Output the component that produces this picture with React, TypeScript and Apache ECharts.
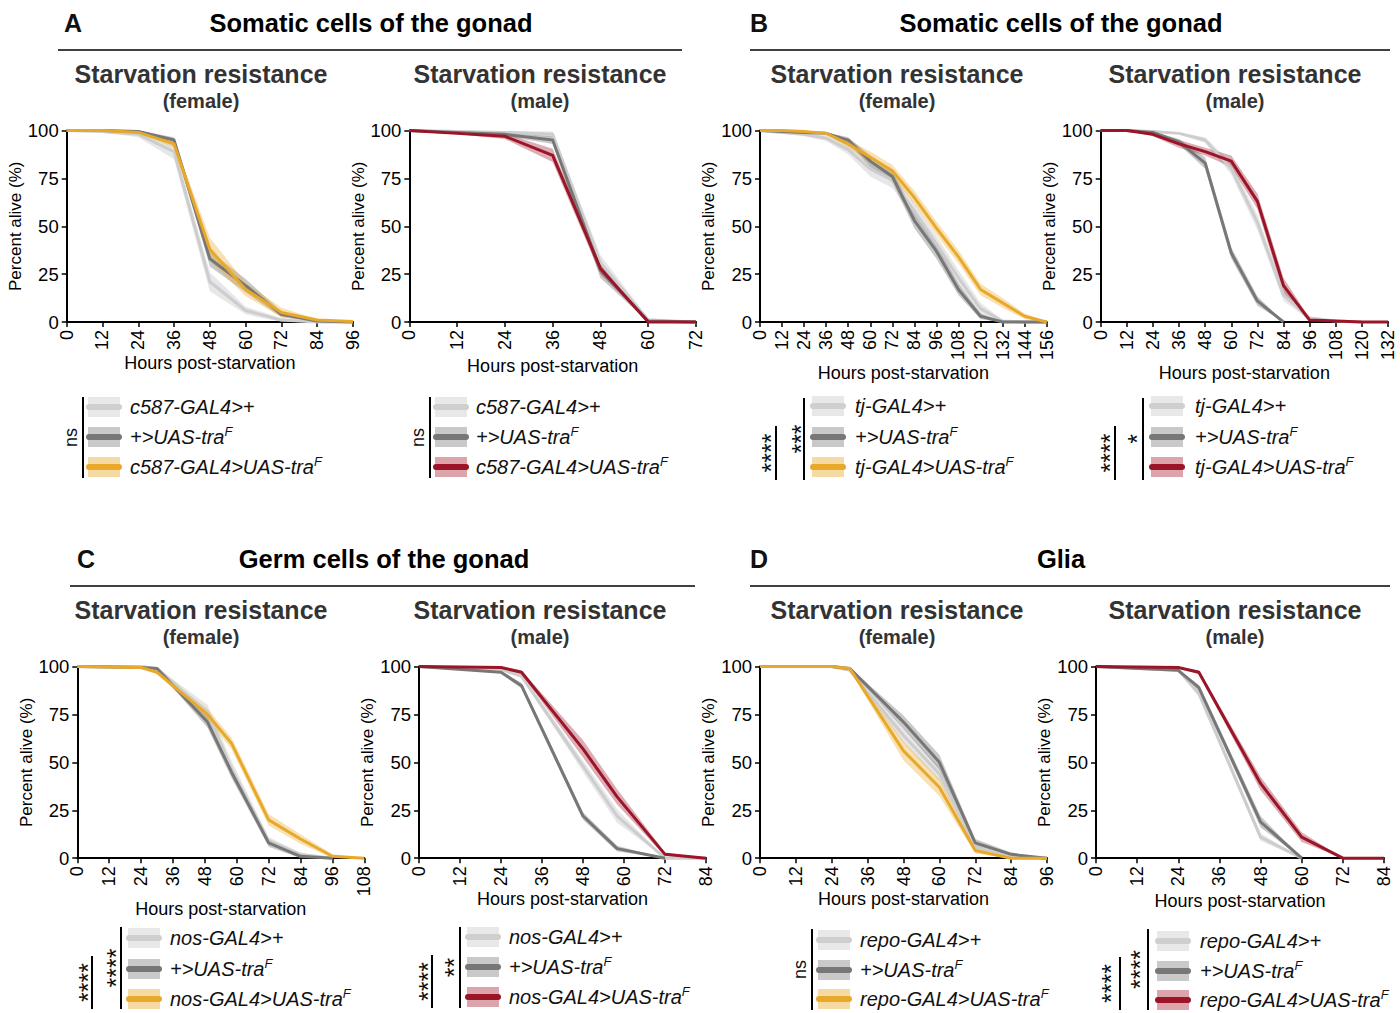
import React, { useEffect, useRef } from 'react';
import * as echarts from 'echarts';

const FONT = '"Liberation Sans", Arial, Helvetica, sans-serif';

// ---------- Panel A (c587-GAL4) female ----------
const A_F_HOURS = [0, 12, 24, 36, 48, 60, 72, 84, 96];
const A_F_DRV = [100, 99.5, 98, 89, 21, 6, 1, 0, 0];
const A_F_DRV_CI = [0, 0.5, 1.5, 4, 5, 2, 1, 0, 0];
const A_F_UAS = [100, 100, 99.5, 95, 33, 19, 4, 0.5, 0];
const A_F_UAS_CI = [0, 0, 0.5, 1.5, 4, 3.5, 1.5, 0.5, 0];
const A_F_EXP = [100, 100, 99, 93, 38, 17, 5, 1, 0.3];
const A_F_EXP_CI = [0, 0, 0.5, 2, 6, 3.5, 2.5, 0.5, 0.3];
// ---------- Panel A male ----------
const A_M_HOURS = [0, 12, 24, 36, 48, 60, 72];
const A_M_DRV = [100, 99.5, 99, 98, 31, 1, 0];
const A_M_DRV_CI = [0, 0.3, 0.8, 1.5, 4, 1, 0.5];
const A_M_UAS = [100, 99, 98, 95, 27, 0.5, 0];
const A_M_UAS_CI = [0, 0.3, 0.8, 2, 4, 0.5, 0];
const A_M_EXP = [100, 98.5, 97, 87, 28, 0, 0];
const A_M_EXP_CI = [0, 0.5, 1.5, 3.5, 3, 0, 0];
// ---------- Panel B (tj-GAL4) female ----------
const B_F_HOURS = [0, 12, 24, 36, 48, 60, 72, 84, 96, 108, 120, 132, 144, 156];
const B_F_DRV = [100, 99, 98, 96, 90, 80, 74, 58, 41, 23, 7, 0.5, 0, 0];
const B_F_DRV_CI = [0, 0.5, 1, 1.5, 2.5, 4, 4, 4, 4, 4, 3, 0.5, 0, 0];
const B_F_UAS = [100, 99.5, 99, 98.5, 95, 84, 76, 53, 37, 17, 3, 0, 0, 0];
const B_F_UAS_CI = [0, 0.3, 0.5, 0.5, 1.5, 3, 3, 4, 4, 3, 1.5, 0, 0, 0];
const B_F_EXP = [100, 100, 99.5, 98.5, 93, 86, 79, 65, 49, 34, 17, 10, 3, 0];
const B_F_EXP_CI = [0, 0, 0.3, 0.5, 2, 3, 3, 3.5, 3.5, 3.5, 3, 2.5, 1.5, 0];
// ---------- Panel B male ----------
const B_M_HOURS = [0, 12, 24, 36, 48, 60, 72, 84, 96, 108, 120, 132];
const B_M_DRV = [100, 100, 99.5, 98.5, 95, 80, 52, 14, 2, 0.5, 0];
const B_M_DRV_CI = [0, 0, 0.3, 0.5, 1.5, 3, 4, 3, 1, 0.5, 0];
const B_M_UAS = [100, 100, 99, 94, 83, 36, 11, 0];
const B_M_UAS_CI = [0, 0, 0.5, 1.5, 3, 3, 2.5, 0];
const B_M_EXP = [100, 100, 98, 93, 89, 84, 63, 19, 1, 0.5, 0, 0];
const B_M_EXP_CI = [0, 0, 1, 2, 2, 3, 4, 4, 1, 0.5, 0, 0];
// ---------- Panel C (nos-GAL4) female ----------
const C_F_HOURS = [0, 24, 30, 49, 58, 72, 84, 96, 108];
const C_F_DRV = [100, 100, 99, 76, 47, 9, 2, 0];
const C_F_DRV_CI = [0, 0, 0.5, 4, 4, 2, 1, 0];
const C_F_UAS = [100, 99.5, 99, 71, 45, 8, 1, 0];
const C_F_UAS_CI = [0, 0.5, 0.5, 3, 3, 2, 1, 0];
const C_F_EXP = [100, 99.5, 97, 75, 60, 20, 10, 1, 0];
const C_F_EXP_CI = [0, 0.3, 1, 3, 3, 3, 2.5, 1, 0];
// ---------- Panel C male ----------
const C_M_HOURS = [0, 24, 30, 48, 58, 72, 84];
const C_M_DRV = [100, 98.5, 95, 48, 22, 0, 0];
const C_M_DRV_CI = [0, 0.5, 1, 3, 3.5, 0, 0];
const C_M_UAS = [100, 97, 90, 22, 5, 0];
const C_M_UAS_CI = [0, 0.5, 1.5, 2, 1.5, 0];
const C_M_EXP = [100, 99.5, 97, 57, 32, 2, 0];
const C_M_EXP_CI = [0, 0.3, 1, 4.5, 4, 1, 0];
// ---------- Panel D (repo-GAL4) female ----------
const D_F_HOURS = [0, 24, 30, 48, 60, 72, 84, 96];
const D_F_DRV = [100, 100, 98, 64, 44, 6, 1, 0];
const D_F_DRV_CI = [0, 0, 0.5, 4, 4, 2, 1, 0];
const D_F_UAS = [100, 100, 99, 71, 50, 8, 2, 0];
const D_F_UAS_CI = [0, 0, 0.5, 3.5, 4, 2, 1, 0];
const D_F_EXP = [100, 100, 99, 56, 37, 4, 0, 0];
const D_F_EXP_CI = [0, 0, 0.5, 5, 4.5, 1.5, 0, 0];
// ---------- Panel D male ----------
const D_M_HOURS = [0, 24, 30, 48, 60, 72, 84];
const D_M_DRV = [100, 98, 86, 11, 0];
const D_M_DRV_CI = [0, 0.5, 2, 2, 0];
const D_M_UAS = [100, 98, 89, 19, 0];
const D_M_UAS_CI = [0, 0.5, 1.5, 3, 0];
const D_M_EXP = [100, 99.5, 97, 39, 11, 0, 0];
const D_M_EXP_CI = [0, 0.3, 1, 3.5, 2.5, 0, 0];

// ---------- Legend labels & stats ----------
const A_LABELS = ['c587-GAL4>+', '+>UAS-tra', 'c587-GAL4>UAS-tra'];
const B_LABELS = ['tj-GAL4>+', '+>UAS-tra', 'tj-GAL4>UAS-tra'];
const C_LABELS = ['nos-GAL4>+', '+>UAS-tra', 'nos-GAL4>UAS-tra'];
const D_LABELS = ['repo-GAL4>+', '+>UAS-tra', 'repo-GAL4>UAS-tra'];
const SUPERSCRIPT = ['', 'F', 'F'];
const A_F_SIG = ['ns'];
const A_M_SIG = ['ns'];
const B_F_SIG = ['****', '***'];
const B_M_SIG = ['****', '*'];
const C_F_SIG = ['****', '****'];
const C_M_SIG = ['****', '**'];
const D_F_SIG = ['ns'];
const D_M_SIG = ['****', '****'];

const SECTION_TITLES = ['Somatic cells of the gonad', 'Somatic cells of the gonad', 'Germ cells of the gonad', 'Glia'];
const SECTION_LETTERS = ['A', 'B', 'C', 'D'];
const SEX_LABELS = ['(female)', '(male)'];

// ---------- Styles ----------
const COLORS = {
  light: { line: '#cdcdcd', band: 'rgba(185,185,185,0.35)', swBand: '#e8e8e8', swLine: '#cfcfcf' },
  dark: { line: '#777777', band: 'rgba(120,120,120,0.4)', swBand: '#c9c9c9', swLine: '#777777' },
  yellow: { line: '#e8a92b', band: 'rgba(232,169,43,0.35)', swBand: '#f6daa3', swLine: '#e8a92b' },
  red: { line: '#9b1427', band: 'rgba(155,20,39,0.35)', swBand: '#dca4ab', swLine: '#9b1427' },
};

const PANELS = [
  { hours: A_F_HOURS, xmax: 96, drv: [A_F_DRV, A_F_DRV_CI], uas: [A_F_UAS, A_F_UAS_CI], exp: [A_F_EXP, A_F_EXP_CI], col: 'yellow',
    grid: { left: 66.7, top: 130.5, width: 286.3, height: 191.5 }, xGap: 32, cx: 201, ty: 74,
    labels: A_LABELS, sig: A_F_SIG, leg: { rows: [407, 437, 467], sx: 88, tx: 130, lines: [{ x: 83, y1: 397, y2: 478, lx: 71 }] } },
  { hours: A_M_HOURS, xmax: 72, drv: [A_M_DRV, A_M_DRV_CI], uas: [A_M_UAS, A_M_UAS_CI], exp: [A_M_EXP, A_M_EXP_CI], col: 'red',
    grid: { left: 409.3, top: 130.5, width: 286.7, height: 191.5 }, xGap: 35, cx: 540, ty: 74,
    labels: A_LABELS, sig: A_M_SIG, leg: { rows: [407, 437, 467], sx: 435, tx: 476, lines: [{ x: 430, y1: 397, y2: 478, lx: 418 }] } },
  { hours: B_F_HOURS, xmax: 156, drv: [B_F_DRV, B_F_DRV_CI], uas: [B_F_UAS, B_F_UAS_CI], exp: [B_F_EXP, B_F_EXP_CI], col: 'yellow',
    grid: { left: 760, top: 130.5, width: 286.7, height: 191.5 }, xGap: 42, cx: 897, ty: 74,
    labels: B_LABELS, sig: B_F_SIG, leg: { rows: [406, 437, 467], sx: 812, tx: 855, lines: [{ x: 776, y1: 426, y2: 480, lx: 771 }, { x: 804, y1: 398, y2: 480, lx: 801 }] } },
  { hours: B_M_HOURS, xmax: 132, drv: [B_M_DRV, B_M_DRV_CI], uas: [B_M_UAS, B_M_UAS_CI], exp: [B_M_EXP, B_M_EXP_CI], col: 'red',
    grid: { left: 1100.7, top: 130.5, width: 287.3, height: 191.5 }, xGap: 42, cx: 1235, ty: 74,
    labels: B_LABELS, sig: B_M_SIG, leg: { rows: [406, 437, 467], sx: 1151, tx: 1195, lines: [{ x: 1115, y1: 426, y2: 480, lx: 1110 }, { x: 1143, y1: 398, y2: 480, lx: 1137 }] } },
  { hours: C_F_HOURS, xmax: 108, drv: [C_F_DRV, C_F_DRV_CI], uas: [C_F_UAS, C_F_UAS_CI], exp: [C_F_EXP, C_F_EXP_CI], col: 'yellow',
    grid: { left: 77.3, top: 666.5, width: 287, height: 191.7 }, xGap: 35, cx: 201, ty: 610,
    labels: C_LABELS, sig: C_F_SIG, leg: { rows: [938, 969, 999], sx: 128, tx: 170, lines: [{ x: 92, y1: 956, y2: 1009, lx: 88 }, { x: 121, y1: 927, y2: 1009, lx: 116 }] } },
  { hours: C_M_HOURS, xmax: 84, drv: [C_M_DRV, C_M_DRV_CI], uas: [C_M_UAS, C_M_UAS_CI], exp: [C_M_EXP, C_M_EXP_CI], col: 'red',
    grid: { left: 419, top: 666.5, width: 287, height: 191.7 }, xGap: 32, cx: 540, ty: 610,
    labels: C_LABELS, sig: C_M_SIG, leg: { rows: [937, 967, 997], sx: 467, tx: 509, lines: [{ x: 432, y1: 955, y2: 1008, lx: 428 }, { x: 460, y1: 927, y2: 1008, lx: 454 }] } },
  { hours: D_F_HOURS, xmax: 96, drv: [D_F_DRV, D_F_DRV_CI], uas: [D_F_UAS, D_F_UAS_CI], exp: [D_F_EXP, D_F_EXP_CI], col: 'yellow',
    grid: { left: 760, top: 666.5, width: 287, height: 191.7 }, xGap: 32, cx: 897, ty: 610,
    labels: D_LABELS, sig: D_F_SIG, leg: { rows: [940, 970, 999], sx: 818, tx: 860, lines: [{ x: 812, y1: 929, y2: 1010, lx: 800 }] } },
  { hours: D_M_HOURS, xmax: 84, drv: [D_M_DRV, D_M_DRV_CI], uas: [D_M_UAS, D_M_UAS_CI], exp: [D_M_EXP, D_M_EXP_CI], col: 'red',
    grid: { left: 1096, top: 666.5, width: 288, height: 191.7 }, xGap: 34, cx: 1235, ty: 610,
    labels: D_LABELS, sig: D_M_SIG, leg: { rows: [941, 971, 1000], sx: 1157, tx: 1200, lines: [{ x: 1120, y1: 957, y2: 1010, lx: 1111 }, { x: 1148, y1: 929, y2: 1010, lx: 1140 }] } },
];

const SECTIONS = [
  { lx: 64, cx: 371, y: 23, x1: 58, x2: 682, ly: 50 },
  { lx: 750, cx: 1061, y: 23, x1: 750, x2: 1390, ly: 50 },
  { lx: 77, cx: 384, y: 559, x1: 70, x2: 695, ly: 586 },
  { lx: 750, cx: 1061, y: 559, x1: 750, x2: 1390, ly: 586 },
];

function bandSeries(gi: number, hours: number[], mean: number[], ci: number[], color: string) {
  return {
    type: 'custom',
    xAxisIndex: gi,
    yAxisIndex: gi,
    silent: true,
    z: 1,
    data: [[hours[0], mean[0]]],
    renderItem: (_params: any, api: any) => {
      const n = mean.length;
      const pts: number[][] = [];
      for (let k = 0; k < n; k++) pts.push(api.coord([hours[k], Math.min(100, mean[k] + ci[k])]));
      for (let k = n - 1; k >= 0; k--) pts.push(api.coord([hours[k], Math.max(0, mean[k] - ci[k])]));
      return { type: 'polygon', shape: { points: pts }, style: { fill: color } };
    },
  };
}

function lineSeries(gi: number, hours: number[], mean: number[], color: string) {
  return {
    type: 'line',
    xAxisIndex: gi,
    yAxisIndex: gi,
    silent: true,
    z: 3,
    symbol: 'none',
    clip: false,
    data: mean.map((v, k) => [hours[k], v]),
    lineStyle: { color, width: 3, join: 'round' },
  };
}

function buildOption() {
  const grid: any[] = [];
  const xAxis: any[] = [];
  const yAxis: any[] = [];
  const series: any[] = [];
  const graphic: any[] = [];

  PANELS.forEach((p, gi) => {
    grid.push({ ...p.grid, containLabel: false, outerBoundsMode: 'none' });
    xAxis.push({
      gridIndex: gi, type: 'value', min: 0, max: p.xmax, interval: 12,
      axisLine: { show: true, onZero: false, lineStyle: { color: '#000', width: 2 } },
      axisTick: { show: true, length: 5, lineStyle: { color: '#000', width: 1.5 } },
      axisLabel: { rotate: 90, fontSize: 18, color: '#000', margin: 8, fontFamily: FONT },
      splitLine: { show: false },
      name: 'Hours post-starvation', nameLocation: 'middle', nameGap: p.xGap,
      nameTextStyle: { fontSize: 18, color: '#000', fontFamily: FONT },
    });
    yAxis.push({
      gridIndex: gi, type: 'value', min: 0, max: 100, interval: 25,
      axisLine: { show: true, lineStyle: { color: '#000', width: 2 } },
      axisTick: { show: true, length: 5, lineStyle: { color: '#000', width: 1.5 } },
      axisLabel: { fontSize: 18.5, color: '#000', margin: 8, fontFamily: FONT },
      splitLine: { show: false },
      name: 'Percent alive (%)', nameLocation: 'middle', nameGap: 38,
      nameTextStyle: { fontSize: 17, color: '#000', fontFamily: FONT },
    });
    const groups: [number[][], string][] = [
      [p.drv, 'light'],
      [p.uas, 'dark'],
      [p.exp, p.col],
    ];
    groups.forEach(([d, c]) => series.push(bandSeries(gi, p.hours, d[0], d[1], (COLORS as any)[c].band)));
    groups.forEach(([d, c]) => series.push(lineSeries(gi, p.hours, d[0], (COLORS as any)[c].line)));

    // Panel titles
    graphic.push({ type: 'text', x: p.cx, y: p.ty, style: { text: 'Starvation resistance', fontSize: 25, fontWeight: 'bold', fontFamily: FONT, fill: '#333', align: 'center', verticalAlign: 'middle' } });
    graphic.push({ type: 'text', x: p.cx, y: p.ty + 27, style: { text: SEX_LABELS[gi % 2], fontSize: 20, fontWeight: 'bold', fontFamily: FONT, fill: '#333', align: 'center', verticalAlign: 'middle' } });

    // Legend
    const swatchKeys = ['light', 'dark', p.col];
    p.leg.rows.forEach((ry, r) => {
      const c = (COLORS as any)[swatchKeys[r]];
      graphic.push({ type: 'rect', shape: { x: p.leg.sx, y: ry - 10, width: 32, height: 20 }, style: { fill: c.swBand } });
      graphic.push({ type: 'line', shape: { x1: p.leg.sx + 1, y1: ry, x2: p.leg.sx + 31, y2: ry }, style: { stroke: c.swLine, lineWidth: 6, lineCap: 'round' } });
      const sup = SUPERSCRIPT[r];
      graphic.push({
        type: 'text', x: p.leg.tx, y: ry,
        style: {
          text: sup ? `{t|${p.labels[r]}}{s|${sup}}` : `{t|${p.labels[r]}}`,
          rich: {
            t: { fontSize: 20, fontStyle: 'italic', fontFamily: FONT, fill: '#111', lineHeight: 24 },
            s: { fontSize: 13, fontStyle: 'italic', fontFamily: FONT, fill: '#111', verticalAlign: 'top', lineHeight: 14 },
          },
          align: 'left', verticalAlign: 'middle',
        },
      });
    });
    p.leg.lines.forEach((ln, k) => {
      const isStars = p.sig[k].indexOf('*') >= 0;
      graphic.push({ type: 'line', shape: { x1: ln.x, y1: ln.y1, x2: ln.x, y2: ln.y2 }, style: { stroke: '#000', lineWidth: 2 } });
      graphic.push({
        type: 'text', x: ln.lx, y: (ln.y1 + ln.y2) / 2, rotation: Math.PI / 2,
        style: { text: p.sig[k], fontSize: isStars ? 25 : 18, fontFamily: FONT, fill: '#111', align: 'center', verticalAlign: 'middle' },
      });
    });
  });

  SECTIONS.forEach((s, i) => {
    graphic.push({ type: 'text', x: s.lx, y: s.y, style: { text: SECTION_LETTERS[i], fontSize: 25, fontWeight: 'bold', fontFamily: FONT, fill: '#111', align: 'left', verticalAlign: 'middle' } });
    graphic.push({ type: 'text', x: s.cx, y: s.y, style: { text: SECTION_TITLES[i], fontSize: 25.5, fontWeight: 'bold', fontFamily: FONT, fill: '#000', align: 'center', verticalAlign: 'middle' } });
    graphic.push({ type: 'line', shape: { x1: s.x1, y1: s.ly, x2: s.x2, y2: s.ly }, style: { stroke: '#000', lineWidth: 1.5 } });
  });

  return {
    animation: false,
    backgroundColor: '#fff',
    textStyle: { fontFamily: FONT },
    grid, xAxis, yAxis, series, graphic,
  };
}

export default function App() {
  const ref = useRef<HTMLDivElement>(null);
  useEffect(() => {
    if (!ref.current) return;
    const chart = echarts.init(ref.current, undefined, { renderer: 'svg' });
    chart.setOption(buildOption() as any);
    return () => chart.dispose();
  }, []);
  return <div ref={ref} style={{ position: 'fixed', left: 0, top: 0, width: 1400, height: 1013, background: '#fff' }} />;
}
